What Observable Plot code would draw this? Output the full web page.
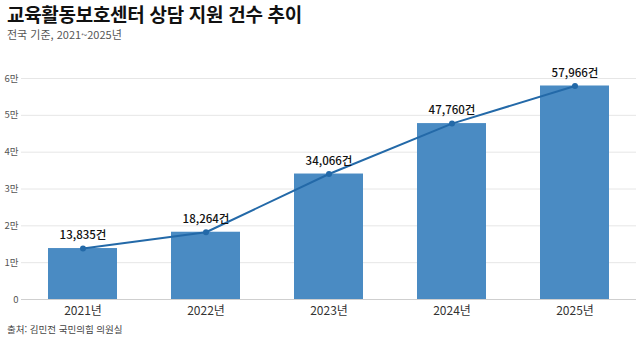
<!DOCTYPE html>
<html lang="ko">
<head>
<meta charset="utf-8">
<script src="https://cdn.jsdelivr.net/npm/d3@7"></script>
<script src="https://cdn.jsdelivr.net/npm/@observablehq/plot@0.6"></script>
<style>
  html, body { margin: 0; padding: 0; background: #fff; }
  body { width: 640px; height: 340px; overflow: hidden; font-family: "Noto Sans CJK KR", "Noto Sans", sans-serif; }
  .title { position: absolute; left: 7px; top: 3px; font-size: 19px; line-height: 22px; font-weight: 700; color: #111; letter-spacing: -0.3px; }
  .subtitle { position: absolute; left: 7px; top: 27px; font-size: 11px; line-height: 14px; color: #555; }
  #chart { position: absolute; left: 0; top: 50px; }
  .caption { position: absolute; left: 7px; top: 323px; font-size: 9.5px; line-height: 12px; color: #444; }
</style>
</head>
<body>
<div class="title">교육활동보호센터 상담 지원 건수 추이</div>
<div class="subtitle">전국 기준, 2021~2025년</div>
<div id="chart"></div>
<div class="caption">출처: 김민전 국민의힘 의원실</div>
<script>
// 연도별 상담 지원 건수
const years = ["2021년", "2022년", "2023년", "2024년", "2025년"];
const counts = [13835, 18264, 34066, 47760, 57966];
const yTicks = [0, 10000, 20000, 30000, 40000, 50000, 60000];

const rows = years.map((year, i) => ({ year, count: counts[i] }));

const barColor = "#4a8bc3";
const lineColor = "#2369a8";

const chart = Plot.plot({
  width: 640,
  height: 274,
  marginLeft: 21,
  marginRight: 4,
  marginTop: 28,
  marginBottom: 25,
  style: { fontFamily: "'Noto Sans CJK KR', 'Noto Sans', sans-serif", background: "#fff" },
  x: { domain: years, paddingInner: 0.44, paddingOuter: 0.22, label: null },
  y: { domain: [0, 60000], label: null },
  marks: [
    Plot.gridY(yTicks, { stroke: "#e6e6e6", strokeOpacity: 1 }),
    Plot.barY(rows, { x: "year", y: "count", fill: barColor }),
    Plot.ruleY([0], { stroke: "#cfcfcf" }),
    Plot.axisY(yTicks, {
      tickSize: 0, tickPadding: 3, fontSize: 9.5, fill: "#555",
      tickFormat: d => d === 0 ? "0" : d / 10000 + "만"
    }),
    Plot.axisX({ tickSize: 0, tickPadding: 7, fontSize: 12, fill: "#333" }),
    Plot.line(rows, { x: "year", y: "count", stroke: lineColor, strokeWidth: 2 }),
    Plot.dot(rows, { x: "year", y: "count", fill: lineColor, r: 3 }),
    Plot.text(rows, {
      x: "year", y: "count", dy: -13,
      text: d => d3.format(",")(d.count) + "건",
      fontSize: 11.5, fontWeight: 500, fill: "#111"
    })
  ]
});
document.getElementById("chart").appendChild(chart);
</script>
</body>
</html>
